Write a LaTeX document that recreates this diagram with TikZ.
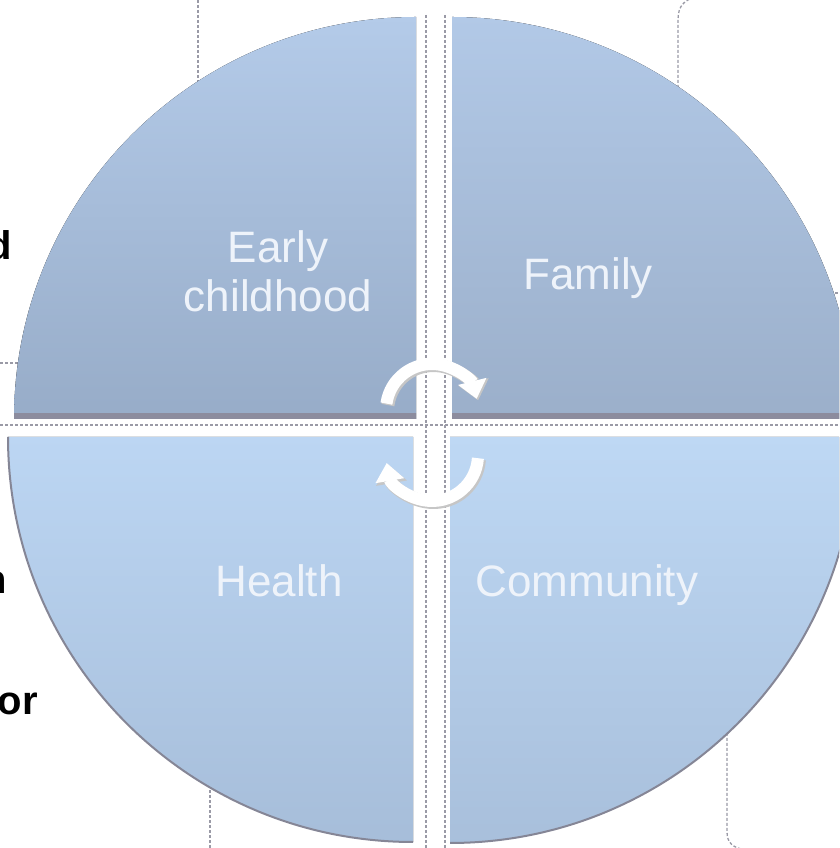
\documentclass[tikz,border=0pt]{standalone}
\usepackage{fontspec}
\setmainfont{Liberation Sans}
\usetikzlibrary{arrows.meta}
\definecolor{tlA}{HTML}{B4CBE9}
\definecolor{tlB}{HTML}{97ACC8}
\definecolor{trA}{HTML}{B2C9E7}
\definecolor{trB}{HTML}{9BAFCA}
\definecolor{blA}{HTML}{BCD6F3}
\definecolor{blB}{HTML}{A6BDD9}
\definecolor{brA}{HTML}{BED8F4}
\definecolor{brB}{HTML}{A8BFDB}
\definecolor{lbltext}{HTML}{EEF3FA}
\definecolor{bandc}{HTML}{8C8C9E}
\definecolor{rimc}{HTML}{858696}
\definecolor{guidec}{HTML}{9A9AA6}
\begin{document}
\begin{tikzpicture}[x=1pt,y=1pt,
  lbl/.style={text=lbltext, font=\fontsize{44}{49}\selectfont, align=center, inner sep=0pt},
  frag/.style={text=black, font=\fontsize{40}{46}\selectfont\bfseries, inner sep=0pt},
  guide/.style={draw=guidec, line width=1.3pt, dash pattern=on 3pt off 2pt},
  rim/.style={draw=rimc, line width=2pt},
  cyc/.style={draw=white, line width=12pt, -{Triangle[width=28pt,length=18pt]}},
  cycshadow/.style={draw=gray!45, line width=13pt, -{Triangle[width=30pt,length=19pt]}},
]
\useasboundingbox (0,0) rectangle (839,848);
\begin{scope}
\clip (0,0) rectangle (839,848);
% background guide lines
\draw[guide] (198,848) -- (198,760);
\draw[guide] (210,0) -- (210,70);
\draw[guide] (0,485) -- (30,485);
\draw[guide] (825,555) -- (839,555);
\draw[guide] (0,423) -- (839,423);
\draw[guide] (426,833) -- (426,0);
\draw[guide] (445,833) -- (445,0);
\draw[guide] (678,750) -- (678,828) .. controls (678,842) and (684,848) .. (696,851);
\draw[guide] (727,125) -- (727,16) .. controls (727,5) and (733,0) .. (746,-2);
% Early childhood quadrant
\begin{scope}
 \clip (416,429) -- (14,429) arc[start angle=180,end angle=90,radius=402] -- cycle;
 \fill[top color=tlA, bottom color=tlB] (0,429) rectangle (420,833);
 \fill[bandc] (0,429) rectangle (420,435);
\end{scope}
% Family quadrant
\begin{scope}
 \clip (452,429) -- (452,831) arc[start angle=90,end angle=0,radius=402] -- cycle;
 \fill[top color=trA, bottom color=trB] (450,429) rectangle (860,833);
 \fill[bandc] (450,429) rectangle (860,435);
\end{scope}
% Health quadrant
\begin{scope}
 \clip (413,411) -- (8,411) arc[start angle=180,end angle=270,radius=405] -- cycle;
 \fill[top color=blA, bottom color=blB] (0,0) rectangle (415,413);
\end{scope}
\draw[rim] (8,411) arc[start angle=180,end angle=270,radius=405];
% Community quadrant
\begin{scope}
 \clip (450,411) -- (856,411) arc[start angle=0,end angle=-90,radius=406] -- cycle;
 \fill[top color=brA, bottom color=brB] (448,0) rectangle (860,413);
\end{scope}
\draw[rim] (856,411) arc[start angle=0,end angle=-90,radius=406];
% cycle arrows
\draw[cycshadow] ([shift={(172:46)}]433.5,436.5) arc[start angle=172,end angle=14,radius=46];
\draw[cyc] ([shift={(172:46)}]432,438) arc[start angle=172,end angle=14,radius=46];
\draw[cycshadow] ([shift={(-4:46)}]433.5,391.5) arc[start angle=-4,end angle=-170,radius=46];
\draw[cyc] ([shift={(-4:46)}]432,393) arc[start angle=-4,end angle=-170,radius=46];
% labels
\node[lbl] (early) at (278,577) {Early\\childhood};
\node[lbl, anchor=base] (family) at (588,558) {Family};
\node[lbl, anchor=base] (health) at (279,251) {Health};
\node[lbl, anchor=base] (community) at (587,251) {Community};
% cut-off text fragments at the left
\node[frag, anchor=base east] (fragd) at (12,588) {d};
\node[frag, anchor=base east] (fragn) at (7,254) {n};
\node[frag, anchor=base east] (fragor) at (38,133) {or};
\end{scope}
\end{tikzpicture}
\end{document}
